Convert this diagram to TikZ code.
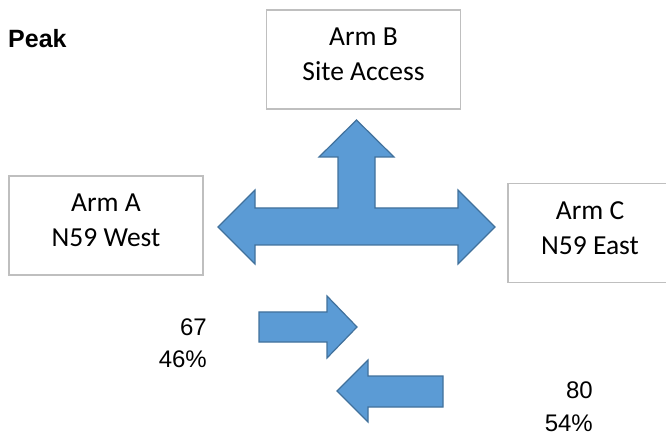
\documentclass[tikz,border=0pt]{standalone}
\usepackage{fontspec}
\setmainfont{Carlito}
\newfontfamily\arialfont{Liberation Sans}
\definecolor{arrowfill}{HTML}{5B9BD5}
\definecolor{arrowline}{HTML}{41719C}
\definecolor{boxline}{HTML}{BFBFBF}
\begin{document}
\begin{tikzpicture}[x=1pt,y=-1pt,
  armbox/.style={draw=boxline, line width=1.5pt, fill=white, minimum width=194pt, minimum height=99pt, inner sep=0pt},
  armtext/.style={font=\fontsize{27.5}{35}\selectfont, inner sep=0pt, anchor=base},
  blockarrow/.style={fill=arrowfill, draw=arrowline, line width=1.2pt, line join=miter},
  numlabel/.style={font=\arialfont\fontsize{24}{32}\selectfont, inner sep=0pt, anchor=base east},
  titlelabel/.style={font=\arialfont\bfseries\fontsize{25}{30}\selectfont, inner sep=0pt, anchor=base west}]
\useasboundingbox (0,0) rectangle (666,435);
\clip (0,0) rectangle (666,435);

% title
\node[titlelabel] (peak) at (8,47.5) {Peak};

% arm boxes
\node[armbox] (armB) at (363.5,59.5) {};
\node[armtext] (armBa) at (363.5,46) {Arm B};
\node[armtext] (armBb) at (363.5,81) {Site Access};

\node[armbox] (armA) at (106,225.5) {};
\node[armtext] (armAa) at (106,212) {Arm A};
\node[armtext] (armAb) at (106,247) {N59 West};

\node[armbox, minimum width=166pt] (armC) at (591,233) {};
\node[armtext] (armCa) at (590,219.5) {Arm C};
\node[armtext] (armCb) at (590,254.5) {N59 East};

% T-shaped block arrow
\draw[blockarrow] (218,227) -- (255,190) -- (255,208) -- (338,208) -- (338,157)
  -- (319,157) -- (356.5,120) -- (394,157) -- (375,157) -- (375,208) -- (458,208)
  -- (458,190) -- (495,227) -- (458,264) -- (458,245) -- (255,245) -- (255,264) -- cycle;

% eastbound arrow
\draw[blockarrow] (259,312) -- (327,312) -- (327,296) -- (357,327) -- (327,358)
  -- (327,342) -- (259,342) -- cycle;

% westbound arrow
\draw[blockarrow] (443,376) -- (368,376) -- (368,360) -- (337,391) -- (368,422)
  -- (368,407) -- (443,407) -- cycle;

% flow labels
\node[numlabel] (n67) at (207,335) {67};
\node[numlabel] (p46) at (207,367) {46\%};
\node[numlabel] (n80) at (593,398) {80};
\node[numlabel] (p54) at (593,431) {54\%};
\end{tikzpicture}
\end{document}
